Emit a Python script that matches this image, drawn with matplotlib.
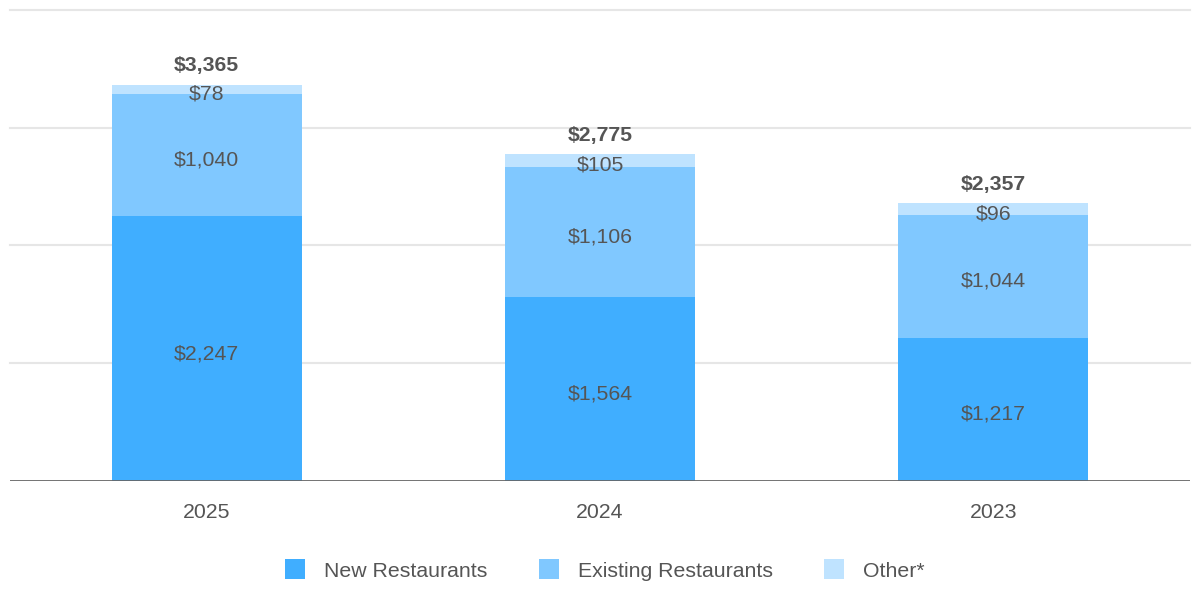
import matplotlib.pyplot as plt
from matplotlib.patches import Patch

years = ["2025", "2024", "2023"]
new_restaurants = [2247, 1564, 1217]
existing_restaurants = [1040, 1106, 1044]
other = [78, 105, 96]
totals = [3365, 2775, 2357]

series_names = ["New Restaurants", "Existing Restaurants", "Other*"]
colors = ["#40AEFF", "#80C8FF", "#BFE3FF"]
text_color = "#555555"

plt.rcParams["font.family"] = ["Liberation Sans", "DejaVu Sans"]

fig = plt.figure(figsize=(12, 6), dpi=100)
ax = fig.add_axes([10 / 1200, 1 - 481 / 600, 1180 / 1200, 471 / 600])

x = range(len(years))
bottom = [0] * len(years)
for vals, color in zip([new_restaurants, existing_restaurants, other], colors):
    ax.bar(x, vals, width=0.483, bottom=bottom, color=color, zorder=2)
    for xi, b, v in zip(x, bottom, vals):
        ax.annotate(f"${v:,}", (xi, b + v / 2), xytext=(0, -3.5),
                    textcoords="offset points", ha="center", va="center",
                    fontsize=15.3, color=text_color, zorder=3)
    bottom = [b + v for b, v in zip(bottom, vals)]

for xi, top, t in zip(x, bottom, totals):
    ax.annotate(f"${t:,}", (xi, top), xytext=(0, 7), textcoords="offset points",
                ha="center", va="bottom", fontsize=15.3, fontweight="bold",
                color=text_color)

ax.set_xlim(-0.5, 2.5)
ax.set_ylim(0, 4000)
for gy in [1000, 2000, 3000, 4000]:
    ax.axhline(gy, color="#e6e6e6", linewidth=1.5, zorder=1, clip_on=False)
ax.axhline(0, color="#666666", linewidth=2, zorder=4)

for s in ax.spines.values():
    s.set_visible(False)
ax.set_yticks([])
ax.set_xticks(list(x))
ax.set_xticklabels(years, fontsize=15.3, color=text_color)
ax.tick_params(axis="x", length=0, pad=16)

handles = [Patch(facecolor=c, edgecolor="none") for c in colors]
fig.legend(handles, series_names, loc="center", bbox_to_anchor=(0.504, 0.05),
           ncol=3, frameon=False, fontsize=15.3, labelcolor=text_color,
           handlelength=0.95, handleheight=1.05, handletextpad=0.9,
           columnspacing=2.4)

fig.savefig("out.png", dpi=100)
